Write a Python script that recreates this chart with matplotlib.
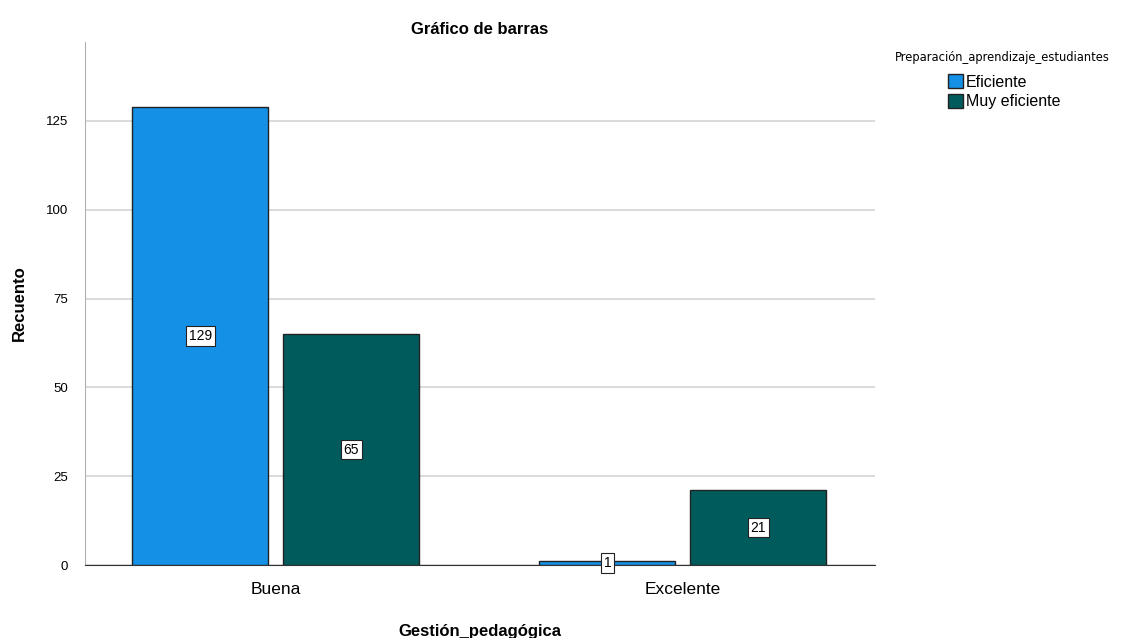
import matplotlib
matplotlib.use("Agg")
import matplotlib.pyplot as plt
import numpy as np

plt.rcParams['font.family'] = ['Liberation Sans', 'DejaVu Sans']

categorias = ["Buena", "Excelente"]
series = ["Eficiente", "Muy eficiente"]
eficiente = [129, 1]
muy_eficiente = [65, 21]
yticks = [0, 25, 50, 75, 100, 125]
colores = ["#1490E6", "#005C5C"]

fig = plt.figure(figsize=(11.31, 6.38), dpi=100)
ax = fig.add_axes([85/1131, 1-565/638, 790/1131, 523/638])

x = np.arange(len(categorias))
w = 0.334
off = 0.1855
for vals, dx, c, lab in [(eficiente, -off, colores[0], series[0]),
                         (muy_eficiente, off, colores[1], series[1])]:
    bars = ax.bar(x + dx, vals, w, color=c, edgecolor="#222222", linewidth=1, label=lab, zorder=3)
    for b, v in zip(bars, vals):
        ax.text(b.get_x() + b.get_width()/2, v/2, str(v), ha="center", va="center",
                fontsize=10, zorder=5,
                bbox=dict(boxstyle="square,pad=0.2", fc="white", ec="#222222", lw=0.8))

ax.set_xlim(-0.469, 1.472)
ax.set_ylim(0, 147.2)
ax.set_xticks(x)
ax.set_xticklabels(categorias, fontsize=12.5)
ax.set_yticks(yticks)
ax.set_yticklabels([str(t) for t in yticks], fontsize=9.5)
ax.tick_params(axis="x", length=0, pad=12)
ax.tick_params(axis="y", length=0, pad=12)
ax.grid(axis="y", color="#d4d4d4", linewidth=1.2, zorder=0)
for s in ["top", "right"]:
    ax.spines[s].set_visible(False)
ax.spines["left"].set_color("#b0b0b0")
ax.spines["bottom"].set_color("#333333")

ax.set_title("Gráfico de barras", fontsize=12, fontweight="bold", pad=6)
ax.set_ylabel("Recuento", fontsize=12, fontweight="bold", labelpad=14)
ax.set_xlabel("Gestión_pedagógica", fontsize=12, fontweight="bold", labelpad=20)

fig.text(895/1131, 1-58/638, "Preparación_aprendizaje_estudiantes", fontsize=8.3,
         family="DejaVu Sans", ha="left", va="center")
fig.legend(loc="upper left", bbox_to_anchor=(948/1131, 1-74/638),
           frameon=False, fontsize=11.5, handlelength=0.95, handleheight=1.0,
           handletextpad=0.15, labelspacing=0.25, borderpad=0, borderaxespad=0)

fig.savefig("out.png", dpi=100)
